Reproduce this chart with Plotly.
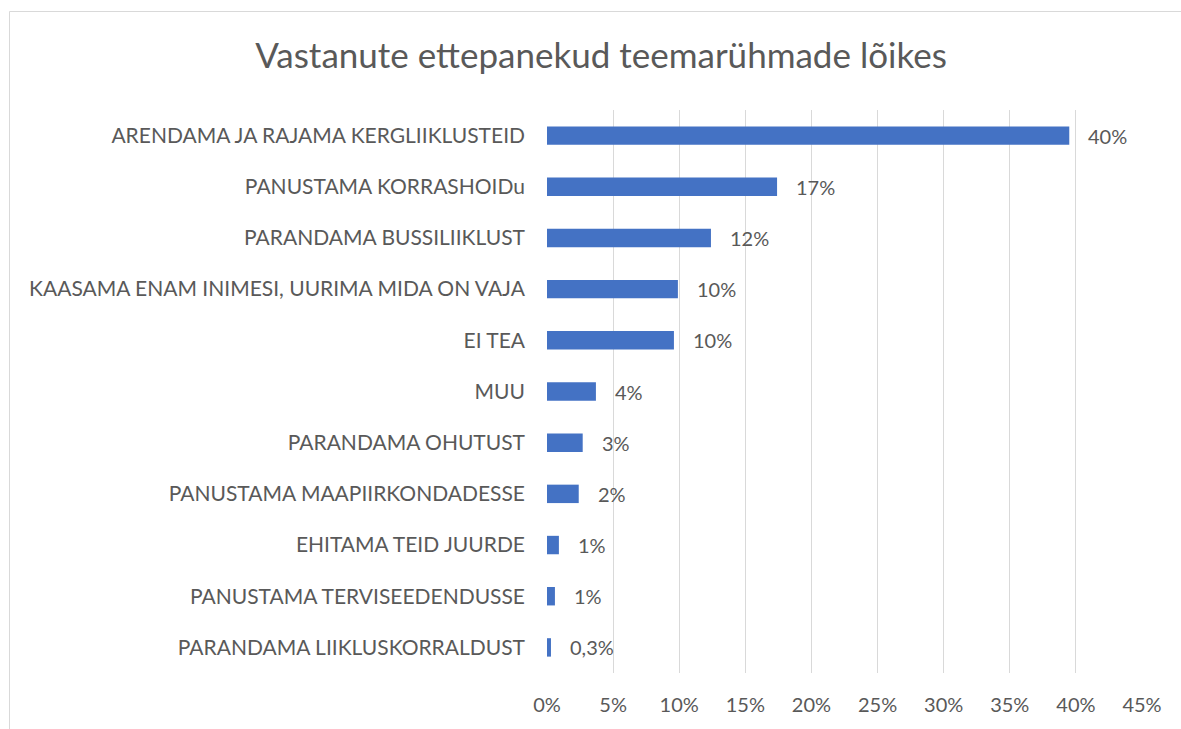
import plotly.graph_objects as go

categories = [
    "ARENDAMA JA RAJAMA KERGLIIKLUSTEID",
    "PANUSTAMA KORRASHOIDu",
    "PARANDAMA BUSSILIIKLUST",
    "KAASAMA ENAM INIMESI, UURIMA MIDA ON VAJA",
    "EI TEA",
    "MUU",
    "PARANDAMA OHUTUST",
    "PANUSTAMA MAAPIIRKONDADESSE",
    "EHITAMA TEID JUURDE",
    "PANUSTAMA TERVISEEDENDUSSE",
    "PARANDAMA LIIKLUSKORRALDUST",
]
values = [0.395, 0.174, 0.124, 0.099, 0.096, 0.037, 0.027, 0.024, 0.009, 0.006, 0.003]
labels = ["40%", "17%", "12%", "10%", "10%", "4%", "3%", "2%", "1%", "1%", "0,3%"]
tick_vals = [0, 0.05, 0.10, 0.15, 0.20, 0.25, 0.30, 0.35, 0.40, 0.45]
tick_text = ["0%", "5%", "10%", "15%", "20%", "25%", "30%", "35%", "40%", "45%"]

FONT = "Lato"
GRAY = "#595959"

fig = go.Figure()
fig.add_trace(go.Bar(
    x=values, y=categories, orientation="h",
    marker=dict(color="#4472C4", line=dict(width=0)),
    hoverinfo="skip",
))

for v, c, t in zip(values, categories, labels):
    fig.add_annotation(x=v, y=c, text=t, showarrow=False, xanchor="left",
                       xshift=17, font=dict(family=FONT, size=20, color=GRAY))

W, H = 1181, 729
ml, mr, mt, mb = 547, 39, 110, 56
pw, ph = W - ml - mr, H - mt - mb

def px(x):
    return (x - ml) / pw

def py(y):
    return (H - mb - y) / ph

fig.add_shape(type="rect", xref="paper", yref="paper",
              x0=px(9.5), x1=px(W + 10), y0=py(H + 10), y1=py(11.5),
              line=dict(color="#D9D9D9", width=1), fillcolor="rgba(0,0,0,0)", layer="below")

fig.update_layout(
    width=W, height=H,
    margin=dict(l=ml, r=mr, t=mt, b=mb),
    paper_bgcolor="white", plot_bgcolor="white",
    bargap=0.64,
    showlegend=False,
    title=dict(text="Vastanute ettepanekud teemarühmade lõikes", x=601 / W, xref="container",
               xanchor="center", y=1 - 56 / H, yref="container", yanchor="middle",
               font=dict(family=FONT, size=35, color=GRAY)),
    xaxis=dict(range=[0, 0.45], tickvals=tick_vals, ticktext=tick_text,
               showgrid=True, gridcolor="#D9D9D9", gridwidth=1,
               zeroline=False, showline=False, ticks="",
               ticklabelstandoff=18,
               tickfont=dict(family=FONT, size=20, color=GRAY)),
    yaxis=dict(autorange="reversed", showgrid=False, zeroline=False, showline=False,
               ticks="", ticklabelstandoff=21,
               tickfont=dict(family=FONT, size=21, color=GRAY)),
)

fig.write_html("out.html", config={"displayModeBar": False},
               post_script="document.body.style.margin='0';")
